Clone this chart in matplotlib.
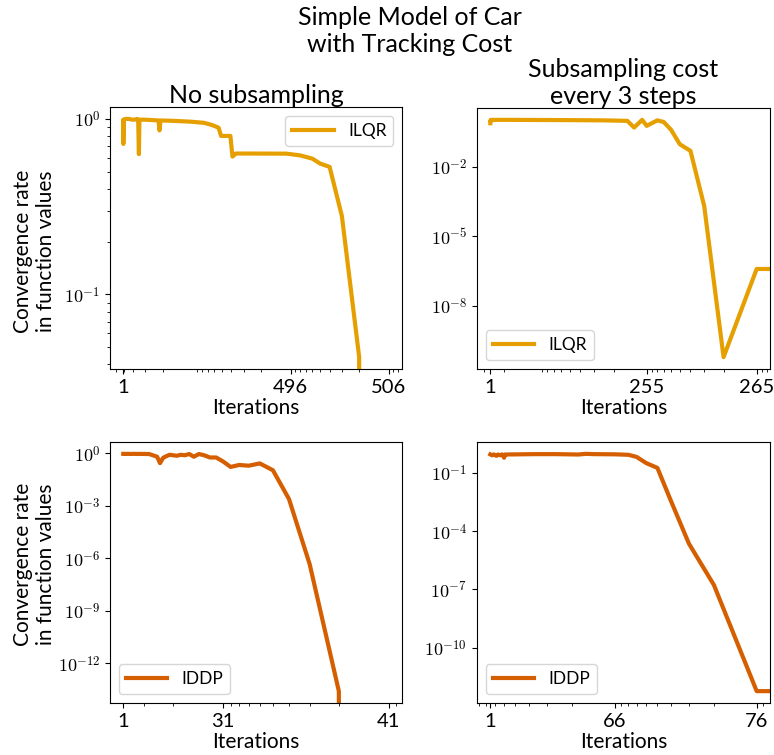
import numpy as np
import matplotlib
matplotlib.use("Agg")
import matplotlib.pyplot as plt
from matplotlib.ticker import FixedLocator, FixedFormatter, FuncFormatter, LogLocator, NullLocator, NullFormatter

plt.rcParams.update({
    "font.family": ["Lato", "DejaVu Sans"],
    "mathtext.fontset": "cm",
})

ILQR_COLOR = "#E69F00"
IDDP_COLOR = "#D55E00"

# ILQR, no subsampling (506 iterations)
ilqr_full_n = 506
ilqr_full_iter = [1, 2, 3, 4, 6, 10, 30, 60, 100, 120, 140, 150, 156, 160, 200,
                  250, 285, 290, 295, 350, 400, 430, 440, 447, 452, 455, 465, 467,
                  470, 480, 495, 498, 500, 501, 502, 503, 504, 505, 506]
ilqr_full_vals = [0.97, 0.72, 0.99, 0.80, 0.98, 0.99, 1.0, 1.0, 0.99, 0.99, 1.0, 0.99,
                  0.63, 0.99, 0.99, 0.985, 0.98, 0.86, 0.98, 0.975, 0.965, 0.95, 0.93,
                  0.91, 0.89, 0.80, 0.80, 0.61, 0.635, 0.635, 0.634, 0.62, 0.594,
                  0.557, 0.533, 0.28, 0.044, 0.0, 0.0]

# ILQR, cost subsampled every 3 steps (265 iterations)
ilqr_sub_n = 265
ilqr_sub_iter = [1, 2, 3, 5, 10, 50, 100, 150, 200, 240, 250, 252, 254, 255, 257,
                 258, 259, 260, 261, 262, 263, 264, 265]
ilqr_sub_vals = [0.75, 1.0, 0.9, 1.05, 1.05, 1.05, 1.05, 1.04, 1.03, 1.0, 0.95, 0.49,
                 1.05, 0.58, 1.0, 0.85, 0.39, 0.093, 0.048, 2.0e-4, 5.9e-11, 3.8e-7, 3.8e-7]

# IDDP, no subsampling (41 iterations)
iddp_full_n = 41
iddp_full_iter = list(range(1, 42))
iddp_full_vals = [0.95, 0.94, 0.95, 0.95, 0.94, 0.95, 0.95, 0.94, 0.95, 0.94, 0.94, 0.93,
                  0.93, 0.84, 0.74, 0.65, 0.28, 0.56, 0.70, 0.84, 0.79, 0.74, 0.84, 0.79,
                  0.93, 0.65, 0.93, 0.79, 0.59, 0.59, 0.35, 0.17, 0.22, 0.20, 0.27, 0.11,
                  2.5e-3, 4.7e-7, 2.6e-14, 0.0, 0.0]

# IDDP, cost subsampled every 3 steps (76 iterations)
iddp_sub_n = 76
iddp_sub_iter = [1, 3, 5, 8, 10, 12, 14, 16, 17, 18, 20, 25, 30, 40, 50, 58, 60, 62,
                 66, 68, 69, 70, 71, 72, 73, 74, 75, 76]
iddp_sub_vals = [0.89, 0.80, 0.89, 0.75, 0.88, 0.80, 0.89, 0.60, 0.89, 0.85, 0.89, 0.89,
                 0.90, 0.92, 0.92, 0.88, 0.95, 0.92, 0.90, 0.85, 0.66, 0.32, 0.18,
                 3.4e-3, 2.3e-5, 1.7e-7, 5.9e-13, 5.9e-13]

W, H = 774, 755
fig = plt.figure(figsize=(W / 100, H / 100), dpi=100)


def px_axes(left, top, right, bottom):
    return fig.add_axes([left / W, 1 - bottom / H, (right - left) / W, (bottom - top) / H])


def log_fmt(v, _):
    return r"$10^{%d}$" % int(round(np.log10(v)))


def draw(ax, n, iters, vals, color, label, yticks, loc, minor_y=False):
    t = n - np.asarray(iters, dtype=float)   # distance to last iteration
    ax.plot(t, vals, color=color, linewidth=3, label=label)
    ax.set_xscale("log")
    ax.set_yscale("log")
    ax.invert_xaxis()
    ax.xaxis.set_major_locator(FixedLocator([n - 1, 10, 1]))
    ax.xaxis.set_major_formatter(FixedFormatter(["1", str(n - 10), str(n)]))
    ax.xaxis.set_minor_locator(LogLocator(subs=np.arange(2, 10), numticks=50))
    ax.xaxis.set_minor_formatter(NullFormatter())
    ax.yaxis.set_major_locator(FixedLocator(yticks))
    ax.yaxis.set_major_formatter(FuncFormatter(log_fmt))
    if minor_y:
        ax.yaxis.set_minor_locator(LogLocator(subs=np.arange(2, 10), numticks=50))
    else:
        ax.yaxis.set_minor_locator(NullLocator())
    ax.yaxis.set_minor_formatter(NullFormatter())
    ax.tick_params(axis="x", labelsize=14.5)
    ax.tick_params(axis="y", labelsize=13)
    ax.set_xlabel("Iterations", fontsize=15, labelpad=2)
    ax.legend(loc=loc, fontsize=12.5, handlelength=2.4)


ax1 = px_axes(110, 107, 402, 369)
ax2 = px_axes(477, 108, 770, 369)
ax3 = px_axes(110, 442, 402, 703)
ax4 = px_axes(477, 442, 770, 703)

draw(ax1, ilqr_full_n, ilqr_full_iter, ilqr_full_vals, ILQR_COLOR, "ILQR",
     [1, 0.1], "upper right", minor_y=True)
draw(ax2, ilqr_sub_n, ilqr_sub_iter, ilqr_sub_vals, ILQR_COLOR, "ILQR",
     [1e-2, 1e-5, 1e-8], "lower left")
draw(ax3, iddp_full_n, iddp_full_iter, iddp_full_vals, IDDP_COLOR, "IDDP",
     [1, 1e-3, 1e-6, 1e-9, 1e-12], "lower left")
draw(ax4, iddp_sub_n, iddp_sub_iter, iddp_sub_vals, IDDP_COLOR, "IDDP",
     [1e-1, 1e-4, 1e-7, 1e-10], "lower left")

ax1.set_title("No subsampling", fontsize=18, pad=3)
ax2.set_title("Subsampling cost\nevery 3 steps", fontsize=18, pad=3)
for ax in (ax1, ax3):
    ax.set_ylabel("Convergence rate\nin function values", fontsize=15)
ax1.yaxis.set_label_coords(-0.185, 0.45)
ax3.yaxis.set_label_coords(-0.185, 0.53)

fig.text(410 / W, 1 - 6 / H, "Simple Model of Car\nwith Tracking Cost",
         ha="center", va="top", fontsize=18)

fig.savefig("out.png", dpi=100)
